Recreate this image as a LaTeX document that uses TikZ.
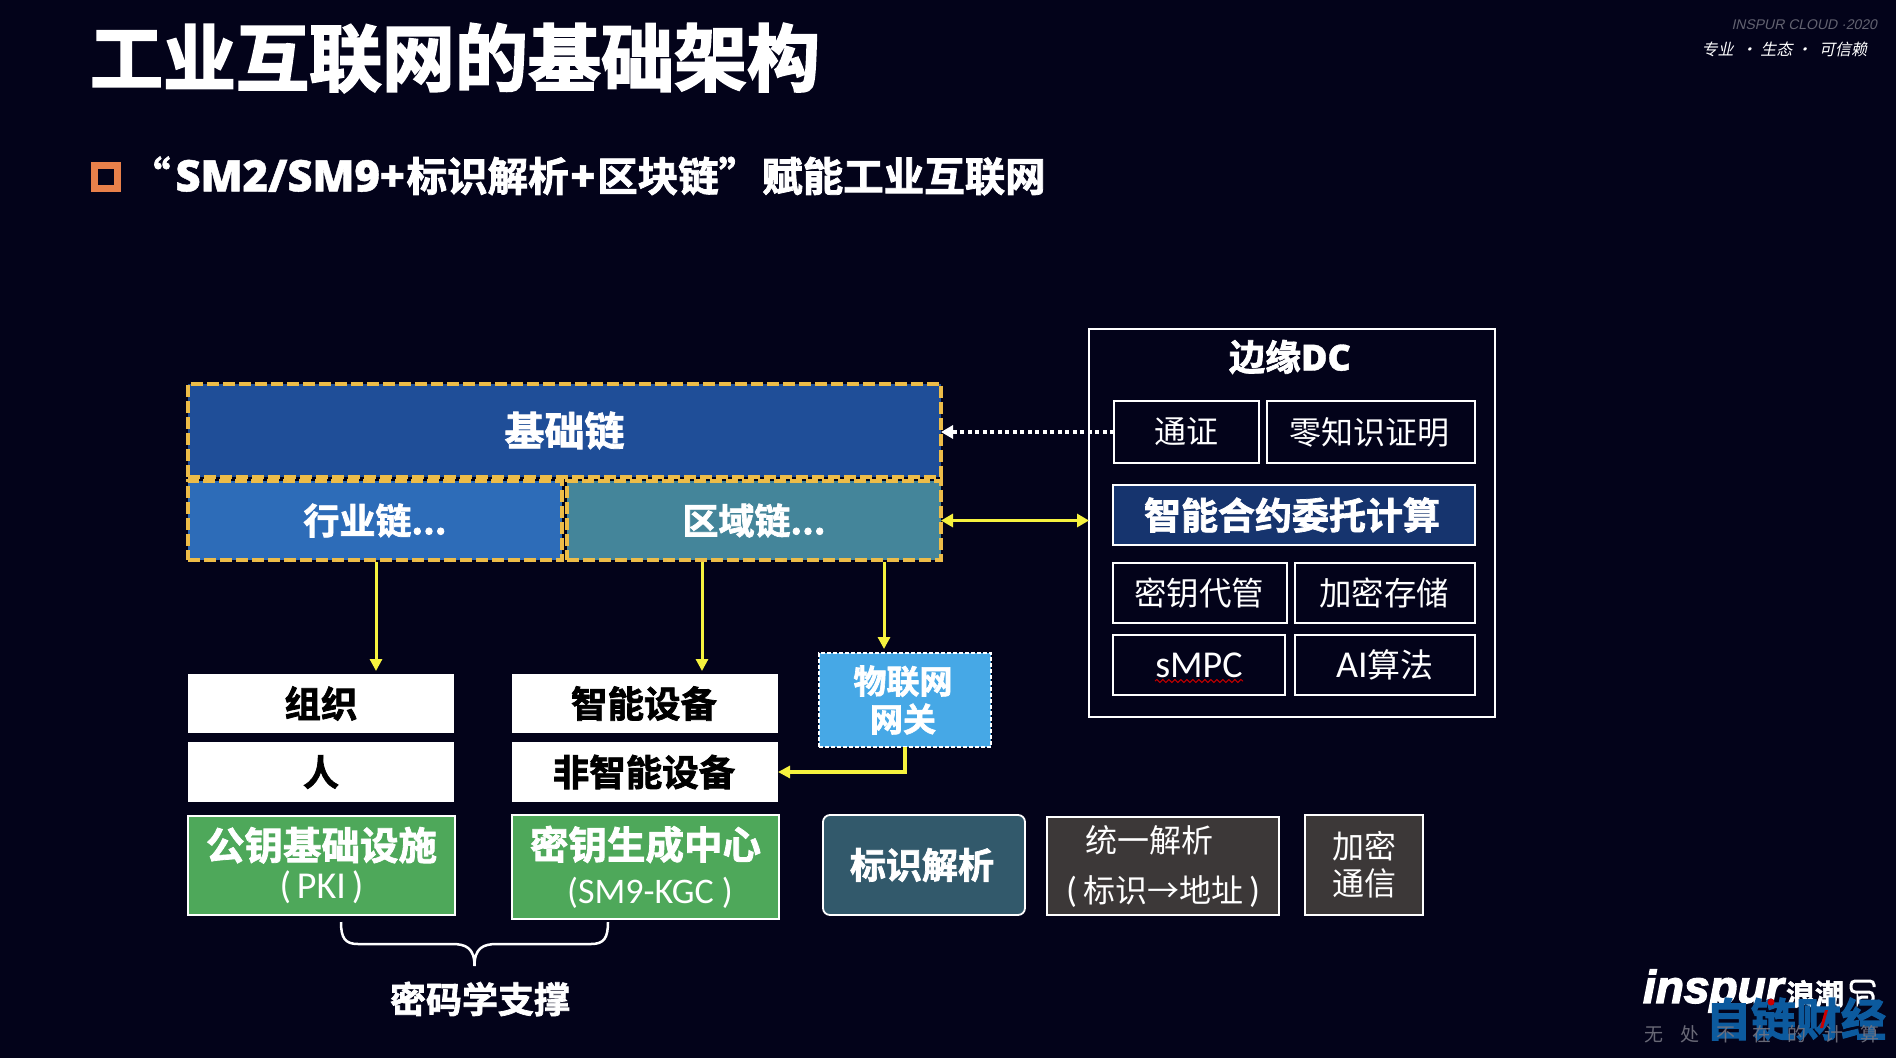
\documentclass[tikz,border=0pt]{standalone}
\usepackage{fontspec}
\usetikzlibrary{arrows.meta,decorations.pathmorphing}
\setmainfont{Noto Sans CJK SC}
\newfontfamily\cjk[BoldFont={Noto Sans CJK SC Bold},BoldFeatures={FakeBold=2}]{Noto Sans CJK SC}
\newfontfamily\heavy[FakeBold=2.6]{Noto Sans CJK SC Bold}
\newfontfamily\slcjk[FakeSlant=0.22]{Noto Sans CJK SC}
\newfontfamily\slat[FakeSlant=0.22]{Liberation Sans}
\newfontfamily\logofont[FakeBold=3]{Liberation Sans Bold Italic}
\newfontfamily\lat{Carlito}
\newfontfamily\opb[FakeBold=1]{Open Sans Bold}
\newcommand{\fs}[1]{\fontsize{#1}{#1}\selectfont}
\newcommand{\fsl}[2]{\fontsize{#1}{#2}\selectfont}
\newcommand{\gap}[1]{\rule{#1}{0pt}}
\definecolor{bg}{HTML}{03031A}
\definecolor{dashy}{HTML}{EDBC48}
\definecolor{arry}{HTML}{F6F23E}
\definecolor{cjichu}{HTML}{1F4E98}
\definecolor{chang}{HTML}{2D6CB8}
\definecolor{cqu}{HTML}{44859A}
\definecolor{cwu}{HTML}{46A8E6}
\definecolor{cgreen}{HTML}{4EA85A}
\definecolor{cbiao}{HTML}{32596B}
\definecolor{cgray}{HTML}{3C3838}
\definecolor{cnavy}{HTML}{16346E}
\definecolor{corange}{HTML}{E8804A}
\definecolor{wm}{HTML}{0C5A9E}
\tikzset{
  base/.style={inner sep=0pt,outer sep=0pt,align=center,text=white},
  chain/.style={base,fill=#1,draw=dashy,line width=3.4pt,dash pattern=on 12pt off 4pt},
  whitebox/.style={base,fill=white,text=black},
  greenbox/.style={base,fill=cgreen,draw=white,line width=1.8pt},
  linebox/.style={base,draw=white,line width=1.8pt},
  yarrow/.style={draw=arry,line width=3pt,-{Triangle[length=12pt,width=12pt]}},
}
% name, x1, y1, x2, y2, style, text
\newcommand{\bx}[7]{\node[#6,minimum width=#4pt-#2pt,minimum height=#5pt-#3pt] (#1) at ({(#2+#4)/2},{(#3+#5)/2}) {#7};}
\begin{document}
\begin{tikzpicture}[x=1pt,y=-1pt]
\useasboundingbox (0,0) rectangle (1896,1058);
\fill[bg] (0,0) rectangle (1896,1058);
% titles
\node[base,anchor=west] (title) at (90,58) {\heavy\fs{73}工业互联网的基础架构};
\node[base,draw=corange,line width=7pt,minimum width=23pt,minimum height=23pt] (bullet) at (106,176.5) {};
\node[base,anchor=west] (sub) at (130,176) {\cjk\bfseries\fs{40.5}“\kern5pt{\opb\fs{43.5}SM2/SM9+}\kern2pt 标识解析\kern2pt{\opb\fs{43.5}+}\kern2pt 区块链”\kern3pt 赋能工业互联网};
% header
\node[base,anchor=east,text=white!38!bg] (cloud) at (1877,25) {\slat\fs{14}INSPUR CLOUD ·2020};
\node[base,anchor=east] (motto) at (1867,49) {\slcjk\fs{16}专业\ \ ·\ 生态\ ·\ \ 可信赖};
% chains
\bx{jichu}{188}{384}{941}{477}{chain=cjichu}{\raisebox{-1pt}{\cjk\bfseries\fs{40}基础链}}
\bx{hang}{188}{481}{562}{560}{chain=chang}{\cjk\bfseries\fs{36}行业链...}
\bx{qu}{567}{481}{941}{560}{chain=cqu}{\cjk\bfseries\fs{36}区域链...}
% left stacks
\bx{zuzhi}{188}{674}{454}{733}{whitebox}{\raisebox{-1pt}{\cjk\bfseries\fs{36.5}组织}}
\bx{ren}{188}{742}{454}{802}{whitebox}{\cjk\bfseries\fs{36}人}
\bx{zhi}{512}{674}{778}{733}{whitebox}{\raisebox{-1pt}{\cjk\bfseries\fs{36.5}智能设备\gap{2pt}}}
\bx{fei}{512}{742}{778}{802}{whitebox}{\cjk\bfseries\fs{36.5}非智能设备\gap{2pt}}
\bx{wu}{819}{653}{991}{747}{base,fill=cwu,draw=white,line width=1.4pt,dash pattern=on 4pt off 2pt,font=\cjk\bfseries\fsl{33}{38}}{物联网\gap{4pt}\\网关\gap{4pt}}
\bx{pki}{188}{816}{455}{915}{greenbox,font=\cjk\bfseries\fsl{38.5}{41}}{\raisebox{-2pt}{公钥基础设施}\\{\lat\mdseries\fs{38}(\gap{6pt}PKI\gap{6pt})}}
\bx{kgc}{512}{815}{779}{919}{greenbox,font=\cjk\bfseries\fsl{38.5}{44}}{密钥生成中心\\{\lat\mdseries\fs{36}\gap{9pt}(SM9-KGC )}}
\bx{biao}{823}{815}{1025}{915}{base,fill=cbiao,draw=white,line width=1.8pt,rounded corners=7pt}{\cjk\bfseries\fs{36}标识解析\gap{4pt}}
\bx{tong}{1047}{817}{1279}{915}{base,fill=cgray,draw=white,line width=1.8pt,font=\cjk\fsl{32}{50}}{统一解析\gap{27pt}\\{\lat\fs{36}(\gap{6pt}}标识→地址{\lat\fs{36}\gap{6pt})}}
\bx{jia}{1305}{815}{1423}{915}{base,fill=cgray,draw=white,line width=1.8pt,font=\cjk\fsl{32}{37}}{加密\\通信}
% brace
\coordinate (brL) at (341,922);
\coordinate (brR) at (608,922);
\coordinate (brT) at (474.5,966);
\draw[white,line width=2.5pt] (brL) .. controls (341,938) and (345,944) .. (358,944) -- (452,944) .. controls (466,944) and (474.5,948) .. (brT) .. controls (474.5,948) and (483,944) .. (497,944) -- (591,944) .. controls (604,944) and (608,938) .. (brR);
\node[base] (mima) at (480,999) {\cjk\bfseries\fs{36}密码学支撑};
% edge DC
\bx{edge}{1089}{329}{1495}{717}{linebox}{}
\node[base] (edgelab) at (1290,357) {\cjk\bfseries\fs{36}边缘{\opb DC}};
\bx{tongz}{1114}{401}{1259}{463}{linebox}{\cjk\fs{32}通证}
\bx{ling}{1267}{401}{1475}{463}{linebox}{\cjk\fs{32}零知识证明\gap{4pt}}
\bx{hey}{1113}{485}{1475}{545}{base,fill=cnavy,draw=white,line width=1.8pt}{\cjk\bfseries\fs{37}智能合约委托计算\gap{4pt}}
\bx{miy}{1113}{563}{1287}{623}{linebox}{\cjk\fs{32.5}密钥代管\gap{2pt}}
\bx{jm}{1295}{563}{1475}{623}{linebox}{\cjk\fs{32.5}加密存储\gap{2pt}}
\bx{smpc}{1113}{635}{1285}{695}{linebox}{\lat\fs{38}sMPC}
\bx{ai}{1295}{635}{1475}{695}{linebox}{\lat\fs{38}AI\cjk\fs{33}算法}
\coordinate (wavL) at (1155,681);
\coordinate (wavR) at (1243,681);
\draw[red!75!black,line width=1pt,decorate,decoration={snake,amplitude=1.5pt,segment length=6pt}] (wavL) -- (wavR);
% connectors
\coordinate (a1) at (376,562);
\coordinate (a2) at (702,562);
\coordinate (a3) at (884,562);
\coordinate (e1) at (376,671);
\coordinate (e2) at (702,671);
\coordinate (e3) at (884,649);
\draw[yarrow] (a1) -- (e1);
\draw[yarrow] (a2) -- (e2);
\draw[yarrow] (a3) -- (e3);
\draw[yarrow,line width=3.4pt] (wu.south -| 905,0) |- (fei.east);
\draw[draw=arry,line width=3.2pt,{Triangle[length=12pt,width=13pt]}-{Triangle[length=12pt,width=13pt]}] (qu.east) -- (qu.east -| edge.west);
\draw[white,line width=3.5pt,dash pattern=on 4pt off 3.5pt,-{Triangle[length=12pt,width=13pt]}] (tongz.west) -- (tongz.west -| jichu.east);
% logo
\node[base,anchor=west] (inspur) at (1643,991) {\logofont\fs{46}inspur};
\node[base,anchor=west] (lang) at (1786,994) {\cjk\bfseries\fs{29}浪潮};
\coordinate (ic1) at (1874,987);
\draw[white,line width=3pt,rounded corners=4pt] (ic1) |- (1851,981) |- (1873,992) -- (1873,1003) -| (1858,997) -- (1868,997);
\node[base,anchor=center,text=wm] (water) at (1796,1019) {\heavy\fs{45}自链财经};
\fill[red!80!black] (1771,1002) circle (3.5pt);
\fill[red!80!black] (1825,1010) -- (1828,1010) -- (1823,1028) -- (1820,1028) -- cycle;
\node[base,anchor=west,text=white!45!bg,opacity=.9] (wuchu) at (1644,1034) {\cjk\fs{19}无\hspace{17pt}处\hspace{17pt}不\hspace{17pt}在\hspace{17pt}的\hspace{17pt}计\hspace{17pt}算};
\end{tikzpicture}
\end{document}
